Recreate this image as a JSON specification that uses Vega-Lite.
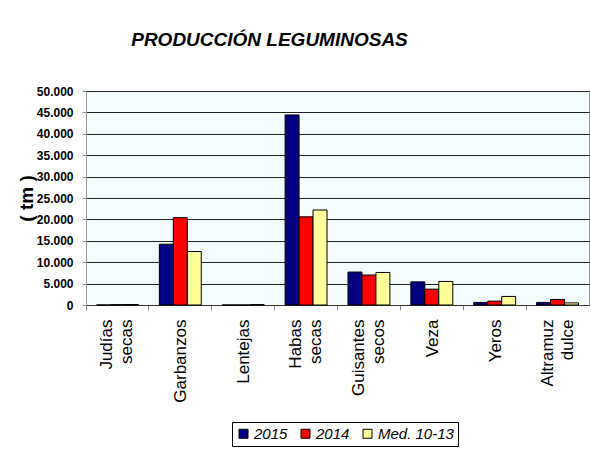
{
  "$schema": "https://vega.github.io/schema/vega-lite/v6.json",
  "autosize": {"type": "none"},
  "width": 503,
  "height": 214,
  "padding": {"left": 86, "top": 91, "right": 2, "bottom": 150},
  "background": "white",
  "title": {
    "text": "PRODUCCIÓN LEGUMINOSAS",
    "font": "Liberation Sans",
    "fontSize": 19,
    "fontWeight": "bold",
    "fontStyle": "italic",
    "color": "black",
    "anchor": "middle",
    "frame": "group",
    "dx": -68,
    "offset": 35
  },
  "data": {
    "values": [
      {"cultivo": "Judías secas", "serie": "2015", "valor": 0},
      {"cultivo": "Judías secas", "serie": "2014", "valor": 80},
      {"cultivo": "Judías secas", "serie": "Med. 10-13", "valor": 120},
      {"cultivo": "Garbanzos", "serie": "2015", "valor": 14200},
      {"cultivo": "Garbanzos", "serie": "2014", "valor": 20400},
      {"cultivo": "Garbanzos", "serie": "Med. 10-13", "valor": 12500},
      {"cultivo": "Lentejas", "serie": "2015", "valor": 0},
      {"cultivo": "Lentejas", "serie": "2014", "valor": 0},
      {"cultivo": "Lentejas", "serie": "Med. 10-13", "valor": 100},
      {"cultivo": "Habas secas", "serie": "2015", "valor": 44400},
      {"cultivo": "Habas secas", "serie": "2014", "valor": 20600},
      {"cultivo": "Habas secas", "serie": "Med. 10-13", "valor": 22200},
      {"cultivo": "Guisantes secos", "serie": "2015", "valor": 7700},
      {"cultivo": "Guisantes secos", "serie": "2014", "valor": 7000},
      {"cultivo": "Guisantes secos", "serie": "Med. 10-13", "valor": 7600},
      {"cultivo": "Veza", "serie": "2015", "valor": 5400},
      {"cultivo": "Veza", "serie": "2014", "valor": 3700},
      {"cultivo": "Veza", "serie": "Med. 10-13", "valor": 5500},
      {"cultivo": "Yeros", "serie": "2015", "valor": 600},
      {"cultivo": "Yeros", "serie": "2014", "valor": 900},
      {"cultivo": "Yeros", "serie": "Med. 10-13", "valor": 2000},
      {"cultivo": "Altramuz dulce", "serie": "2015", "valor": 600},
      {"cultivo": "Altramuz dulce", "serie": "2014", "valor": 1300},
      {"cultivo": "Altramuz dulce", "serie": "Med. 10-13", "valor": 500}
    ]
  },
  "mark": {"type": "bar", "stroke": "black", "strokeWidth": 1},
  "encoding": {
    "x": {
      "field": "cultivo",
      "type": "nominal",
      "sort": ["Judías secas", "Garbanzos", "Lentejas", "Habas secas", "Guisantes secos", "Veza", "Yeros", "Altramuz dulce"],
      "scale": {"paddingInner": 0, "paddingOuter": 0},
      "axis": {
        "title": null,
        "bandPosition": 0,
        "labelAngle": 270,
        "labelAlign": "right",
        "labelBaseline": "middle",
        "labelExpr": "split(datum.label, ' ')",
        "labelOffset": {"condition": {"test": "indexof(datum.value, ' ') >= 0", "value": -10}, "value": 1},
        "labelLineHeight": 20,
        "labelFont": "Liberation Sans",
        "labelFontSize": 17,
        "labelColor": "black",
        "labelPadding": 9,
        "tickColor": "#888888",
        "tickSize": 5,
        "domainColor": "#333333",
        "labelOverlap": false
      }
    },
    "xOffset": {
      "field": "serie",
      "type": "nominal",
      "sort": ["2015", "2014", "Med. 10-13"],
      "scale": {"paddingInner": 0, "paddingOuter": 0.75}
    },
    "y": {
      "field": "valor",
      "type": "quantitative",
      "scale": {"domain": [0, 50000]},
      "axis": {
        "title": "( tm )",
        "titleFont": "Liberation Sans",
        "titleFontSize": 19,
        "titleFontWeight": "bold",
        "titleColor": "black",
        "titlePadding": 0,
        "values": [0, 5000, 10000, 15000, 20000, 25000, 30000, 35000, 40000, 45000, 50000],
        "format": ",.0f",
        "labelFont": "Liberation Sans",
        "labelFontSize": 12,
        "labelFontWeight": "bold",
        "labelColor": "black",
        "labelPadding": 9,
        "tickSize": 4,
        "tickColor": "#888888",
        "domainColor": "#999999",
        "grid": true,
        "gridColor": "#222222",
        "gridWidth": 1
      }
    },
    "fill": {
      "field": "serie",
      "type": "nominal",
      "sort": ["2015", "2014", "Med. 10-13"],
      "scale": {"domain": ["2015", "2014", "Med. 10-13"], "range": ["#000080", "#FF0000", "#FFFF99"]},
      "legend": {
        "title": null,
        "orient": "none",
        "legendX": 146,
        "legendY": 331,
        "direction": "horizontal",
        "symbolType": "square",
        "symbolSize": 81,
        "symbolStrokeColor": "black",
        "symbolStrokeWidth": 1,
        "labelFont": "Liberation Sans",
        "labelFontSize": 15,
        "labelFontStyle": "italic",
        "labelColor": "black",
        "labelOffset": 3,
        "columnPadding": 10,
        "strokeColor": "black",
        "fillColor": "white",
        "padding": 4
      }
    }
  },
  "config": {
    "locale": {
      "number": {"decimal": ",", "thousands": ".", "grouping": [3], "currency": ["", " €"]}
    },
    "view": {"fill": "#F4FCFE", "stroke": "#999999"}
  }
}
